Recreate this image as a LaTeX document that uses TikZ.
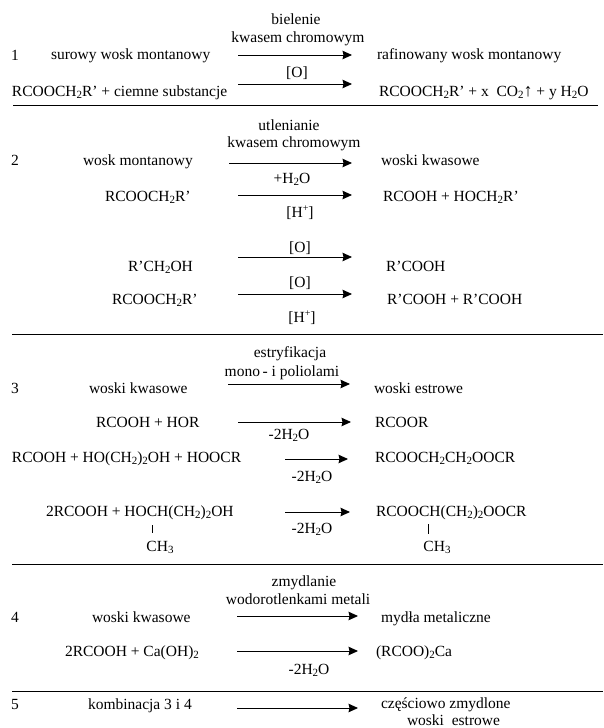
\documentclass[tikz,border=0pt]{standalone}
\usepackage{fontspec}
\setmainfont{Liberation Serif}
\usetikzlibrary{arrows.meta}
\newcommand{\sbs}[1]{\raisebox{-0.3ex}{\fontsize{11}{12}\selectfont #1}}
\newcommand{\sps}[1]{\raisebox{0.8ex}{\fontsize{10}{12}\selectfont #1}}
\tikzset{
  lt/.style={anchor=base west,inner sep=0pt,outer sep=0pt,font=\fontsize{15.5}{17}\selectfont,text=black},
  ct/.style={anchor=base,inner sep=0pt,outer sep=0pt,font=\fontsize{15.5}{17}\selectfont,text=black},
  rxn/.style={draw=black,line width=0.9pt,-{Stealth[length=9.5pt,width=8.5pt,inset=1pt]}},
  rule/.style={draw=black,line width=1pt},
  bond/.style={draw=black,line width=0.8pt}
}
\begin{document}
\begin{tikzpicture}[x=1pt,y=-1pt]
\useasboundingbox (0,0) rectangle (603,728);
% section 1
\node[ct] (a1) at (296,24.5) {bielenie};
\node[ct] (a2) at (298,42.5) {kwasem chromowym};
\node[lt] (n1) at (11,60) {1};
\node[lt] (a3) at (51,59.5) {surowy wosk montanowy};
\node[lt] (a4) at (377,59.5) {rafinowany wosk montanowy};
\coordinate (a5) at (238,55); \coordinate (a6) at (352,55);
\draw[rxn] (a5) -- (a6);
\node[ct] (a7) at (297,77) {[O]};
\coordinate (a8) at (238,84); \coordinate (a9) at (352,84);
\draw[rxn] (a8) -- (a9);
\node[lt] (a10) at (12,96) {RCOOCH\sbs{2}R’ + ciemne substancje};
\node[lt] (a11) at (379,96) {RCOOCH\sbs{2}R’ + x\ \ CO\sbs{2}{\fontsize{18}{18}\selectfont ↑} + y H\sbs{2}O};
\coordinate (r1a) at (13,105); \coordinate (r1b) at (598,105);
\draw[rule] (r1a) -- (r1b);
% section 2
\node[ct] (b1) at (289,130) {utlenianie};
\node[ct] (b2) at (294,147) {kwasem chromowym};
\node[lt] (n2) at (11,165) {2};
\node[lt] (b3) at (83,165) {wosk montanowy};
\node[lt] (b4) at (381,165) {woski kwasowe};
\coordinate (b5) at (229,163); \coordinate (b6) at (352,163);
\draw[rxn] (b5) -- (b6);
\node[ct] (b7) at (292,183) {+H\sbs{2}O};
\node[lt] (b8) at (105,201) {RCOOCH\sbs{2}R’};
\coordinate (b9) at (238,195); \coordinate (b10) at (352,195);
\draw[rxn] (b9) -- (b10);
\node[lt] (b11) at (383,201) {RCOOH + HOCH\sbs{2}R’};
\node[ct] (b12) at (300,217) {[H\sps{+}]};
\node[ct] (b13) at (300,252) {[O]};
\coordinate (b14) at (238,257); \coordinate (b15) at (352,257);
\draw[rxn] (b14) -- (b15);
\node[lt] (b16) at (128,271) {R’CH\sbs{2}OH};
\node[lt] (b17) at (386,271) {R’COOH};
\node[ct] (b18) at (300,287) {[O]};
\coordinate (b19) at (238,294); \coordinate (b20) at (352,294);
\draw[rxn] (b19) -- (b20);
\node[lt] (b21) at (112,304) {RCOOCH\sbs{2}R’};
\node[lt] (b22) at (387,304) {R’COOH + R’COOH};
\node[ct] (b23) at (302,322) {[H\sps{+}]};
\coordinate (r2a) at (12,334); \coordinate (r2b) at (603,334);
\draw[rule] (r2a) -- (r2b);
% section 3
\node[ct] (c1) at (290,357) {estryfikacja};
\node[ct] (c2) at (282,376) {mono\,- i poliolami};
\node[lt] (n3) at (11,393) {3};
\node[lt] (c3) at (89,393) {woski kwasowe};
\node[lt] (c4) at (374,393) {woski estrowe};
\coordinate (c5) at (228,384); \coordinate (c6) at (350,384);
\draw[rxn] (c5) -- (c6);
\node[lt] (c7) at (96,427) {RCOOH + HOR};
\node[lt] (c8) at (375,427) {RCOOR};
\coordinate (c9) at (238,422); \coordinate (c10) at (351,422);
\draw[rxn] (c9) -- (c10);
\node[ct] (c11) at (289,439) {-2H\sbs{2}O};
\node[lt] (c12) at (12,462) {RCOOH + HO(CH\sbs{2})\sbs{2}OH + HOOCR};
\node[lt] (c13) at (375,462) {RCOOCH\sbs{2}CH\sbs{2}OOCR};
\coordinate (c14) at (285,459); \coordinate (c15) at (348,459);
\draw[rxn] (c14) -- (c15);
\node[ct] (c16) at (312,481) {-2H\sbs{2}O};
\node[lt] (c17) at (46,516) {2RCOOH + HOCH(CH\sbs{2})\sbs{2}OH};
\node[lt] (c18) at (376,516) {RCOOCH(CH\sbs{2})\sbs{2}OOCR};
\coordinate (c19) at (285,512); \coordinate (c20) at (350,512);
\draw[rxn] (c19) -- (c20);
\node[ct] (c21) at (312,533) {-2H\sbs{2}O};
\coordinate (c22) at (152,525); \coordinate (c23) at (152,533);
\draw[bond] (c22) -- (c23);
\coordinate (c24) at (428,524); \coordinate (c25) at (428,534);
\draw[bond] (c24) -- (c25);
\node[ct] (c26) at (160,551) {CH\sbs{3}};
\node[ct] (c27) at (437,551) {CH\sbs{3}};
\coordinate (r3a) at (12,564.5); \coordinate (r3b) at (603,564.5);
\draw[rule] (r3a) -- (r3b);
% section 4
\node[ct] (d1) at (304,586) {zmydlanie};
\node[ct] (d2) at (298,604) {wodorotlenkami metali};
\node[lt] (n4) at (11,622) {4};
\node[lt] (d3) at (92,622) {woski kwasowe};
\node[lt] (d4) at (381,622) {mydła metaliczne};
\coordinate (d5) at (237,616); \coordinate (d6) at (358,616);
\draw[rxn] (d5) -- (d6);
\node[lt] (d7) at (65,656) {2RCOOH + Ca(OH)\sbs{2}};
\node[lt] (d8) at (376,656) {(RCOO)\sbs{2}Ca};
\coordinate (d9) at (237,651); \coordinate (d10) at (358,651);
\draw[rxn] (d9) -- (d10);
\node[ct] (d11) at (309,674) {-2H\sbs{2}O};
\coordinate (r4a) at (12,691); \coordinate (r4b) at (603,691);
\draw[rule] (r4a) -- (r4b);
% section 5
\node[lt] (n5) at (11,709) {5};
\node[lt] (e1) at (88,709) {kombinacja 3 i 4};
\node[lt] (e2) at (381,708.5) {częściowo zmydlone};
\coordinate (e3) at (237,708); \coordinate (e4) at (358,708);
\draw[rxn] (e3) -- (e4);
\node[lt] (e5) at (407,725) {woski\ \ estrowe};
\end{tikzpicture}
\end{document}
